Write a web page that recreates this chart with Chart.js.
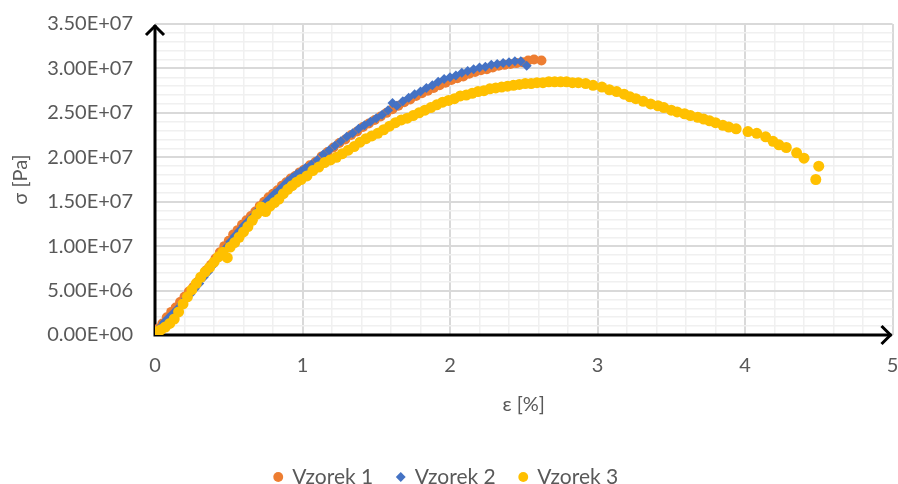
<!DOCTYPE html>
<html>
<head>
<meta charset="utf-8">
<script src="https://cdn.jsdelivr.net/npm/chart.js@4.4.1/dist/chart.umd.min.js"></script>
<style>
  html, body { margin: 0; padding: 0; background: #fff; }
</style>
</head>
<body>
<canvas id="graf" width="898" height="484"></canvas>
<script>
/* ----- data (x = ε [%], y = σ [Pa]) ----- */
const seriesNames = ['Vzorek 1', 'Vzorek 2', 'Vzorek 3'];

const v1x = [0.00,0.02,0.05,0.08,0.11,0.14,0.17,0.20,0.23,0.26,0.29,0.32,0.35,0.38,0.41,0.44,0.47,0.50,0.53,0.56,0.59,0.62,0.65,0.68,0.71,0.74,0.77,0.80,0.83,0.86,0.89,0.92,0.95,0.98,1.01,1.05,1.09,1.13,1.17,1.21,1.25,1.29,1.33,1.37,1.41,1.45,1.49,1.53,1.57,1.61,1.65,1.69,1.73,1.77,1.81,1.85,1.89,1.93,1.97,2.01,2.05,2.09,2.13,2.17,2.21,2.25,2.29,2.33,2.37,2.41,2.45,2.49,2.53,2.57,2.62];
const v1y = [0.3e6,0.7e6,1.3e6,2.0e6,2.6e6,3.1e6,3.7e6,4.3e6,4.9e6,5.4e6,6.0e6,6.6e6,7.3e6,7.9e6,8.6e6,9.3e6,10.0e6,10.6e6,11.3e6,11.8e6,12.4e6,12.9e6,13.4e6,13.9e6,14.5e6,15.0e6,15.5e6,15.9e6,16.3e6,16.8e6,17.2e6,17.6e6,17.9e6,18.3e6,18.6e6,19.1e6,19.5e6,20.1e6,20.6e6,21.1e6,21.6e6,22.0e6,22.5e6,22.9e6,23.4e6,23.8e6,24.2e6,24.6e6,25.0e6,25.4e6,25.8e6,26.2e6,26.5e6,26.9e6,27.2e6,27.5e6,27.8e6,28.1e6,28.4e6,28.7e6,28.9e6,29.1e6,29.4e6,29.6e6,29.8e6,29.9e6,30.1e6,30.3e6,30.4e6,30.5e6,30.6e6,30.7e6,30.9e6,31.0e6,30.9e6];

const v2x = [0.00,0.03,0.06,0.09,0.12,0.15,0.18,0.21,0.24,0.27,0.30,0.33,0.36,0.39,0.42,0.45,0.48,0.51,0.54,0.57,0.60,0.63,0.66,0.69,0.72,0.75,0.78,0.81,0.84,0.87,0.90,0.93,0.96,0.99,1.02,1.06,1.10,1.14,1.18,1.22,1.26,1.30,1.34,1.38,1.42,1.46,1.50,1.54,1.58,1.61,1.64,1.68,1.72,1.76,1.80,1.84,1.88,1.92,1.96,2.00,2.04,2.08,2.12,2.16,2.20,2.24,2.28,2.32,2.36,2.40,2.44,2.48,2.52];
const v2y = [0.2e6,0.8e6,1.4e6,1.9e6,2.4e6,2.9e6,3.5e6,4.1e6,4.6e6,5.2e6,5.8e6,6.5e6,7.1e6,7.8e6,8.5e6,9.2e6,9.8e6,10.5e6,11.1e6,11.7e6,12.3e6,12.8e6,13.3e6,13.9e6,14.5e6,14.9e6,15.4e6,15.9e6,16.3e6,16.8e6,17.3e6,17.7e6,18.1e6,18.4e6,18.8e6,19.2e6,19.7e6,20.3e6,20.8e6,21.3e6,21.8e6,22.3e6,22.7e6,23.2e6,23.6e6,24.0e6,24.4e6,24.8e6,25.3e6,26.1e6,25.8e6,26.3e6,26.7e6,27.1e6,27.4e6,27.8e6,28.1e6,28.5e6,28.8e6,29.0e6,29.2e6,29.5e6,29.7e6,29.9e6,30.1e6,30.2e6,30.4e6,30.5e6,30.6e6,30.7e6,30.8e6,30.8e6,30.3e6];

const v3x = [0.00,0.02,0.04,0.07,0.10,0.13,0.16,0.19,0.22,0.25,0.28,0.31,0.34,0.37,0.40,0.43,0.46,0.49,0.51,0.54,0.57,0.60,0.63,0.66,0.69,0.72,0.75,0.78,0.81,0.84,0.87,0.90,0.93,0.96,0.99,1.03,1.07,1.11,1.15,1.19,1.23,1.27,1.31,1.35,1.39,1.43,1.47,1.51,1.55,1.59,1.63,1.67,1.71,1.75,1.79,1.83,1.87,1.91,1.95,1.99,2.03,2.07,2.11,2.15,2.19,2.23,2.27,2.31,2.35,2.39,2.43,2.47,2.51,2.55,2.59,2.63,2.67,2.71,2.75,2.79,2.83,2.87,2.92,2.97,3.03,3.08,3.13,3.18,3.22,3.26,3.31,3.36,3.41,3.45,3.50,3.54,3.59,3.63,3.68,3.72,3.76,3.80,3.85,3.89,3.94,4.02,4.08,4.14,4.19,4.23,4.28,4.35,4.40,4.50,4.48];
const v3y = [0.2e6,0.4e6,0.6e6,0.9e6,1.3e6,1.8e6,2.6e6,3.5e6,4.3e6,5.1e6,5.8e6,6.5e6,7.1e6,7.6e6,8.2e6,8.8e6,9.3e6,8.7e6,9.9e6,10.4e6,11.0e6,11.6e6,12.2e6,12.9e6,13.6e6,14.4e6,13.9e6,14.5e6,14.9e6,15.3e6,15.9e6,16.4e6,16.8e6,17.2e6,17.5e6,17.9e6,18.5e6,18.9e6,19.4e6,19.7e6,20.0e6,20.4e6,20.8e6,21.2e6,21.7e6,22.1e6,22.4e6,22.7e6,23.1e6,23.5e6,23.9e6,24.2e6,24.4e6,24.7e6,25.0e6,25.3e6,25.6e6,25.9e6,26.2e6,26.4e6,26.6e6,26.9e6,27.0e6,27.2e6,27.4e6,27.5e6,27.7e6,27.8e6,27.9e6,28.0e6,28.1e6,28.2e6,28.3e6,28.3e6,28.4e6,28.4e6,28.5e6,28.5e6,28.5e6,28.5e6,28.4e6,28.4e6,28.3e6,28.1e6,27.9e6,27.6e6,27.4e6,27.1e6,26.8e6,26.6e6,26.3e6,26.0e6,25.8e6,25.6e6,25.3e6,25.1e6,24.9e6,24.7e6,24.5e6,24.3e6,24.1e6,23.9e6,23.6e6,23.4e6,23.2e6,22.9e6,22.7e6,22.3e6,21.8e6,21.4e6,21.1e6,20.5e6,19.9e6,19.0e6,17.5e6];

/* ----- osy ----- */
const xMin = 0, xMax = 5, xMajor = 1, xMinor = 0.2;
const yMin = 0, yMax = 3.5e7, yMajor = 5e6, yMinor = 1e6;

const barvy = ['#ED7D31', '#4472C4', '#FFC000'];
const textColor = '#595959';
const fontFam = "Lato, 'Open Sans', sans-serif";

function body(xs, ys) {
  return xs.map((x, i) => ({ x, y: ys[i] }));
}

/* formát jako v Excelu: 3.50E+07 */
function excelExp(v) {
  if (v === 0) return '0.00E+00';
  const e = Math.floor(Math.log10(Math.abs(v)));
  const m = v / Math.pow(10, e);
  const sign = e < 0 ? '-' : '+';
  return m.toFixed(2) + 'E' + sign + String(Math.abs(e)).padStart(2, '0');
}

function isMajor(v, step) {
  const r = v / step;
  return Math.abs(r - Math.round(r)) < 1e-6;
}

/* černé osy se šipkami */
const sipky = {
  id: 'sipky',
  beforeDatasetsDraw(chart) {
    const { ctx } = chart;
    const x0 = chart.scales.x.getPixelForValue(xMin);
    const y0 = chart.scales.y.getPixelForValue(yMin);
    const xEnd = chart.scales.x.getPixelForValue(xMax);
    const yEnd = chart.scales.y.getPixelForValue(yMax);
    ctx.save();
    ctx.strokeStyle = '#000';
    ctx.lineWidth = 3;
    ctx.beginPath();
    ctx.moveTo(x0, y0 + 1.5);
    ctx.lineTo(x0, yEnd + 1);
    ctx.moveTo(x0 - 1.5, y0);
    ctx.lineTo(xEnd - 1, y0);
    ctx.stroke();
    ctx.beginPath();
    ctx.moveTo(x0 - 9, yEnd + 11);
    ctx.lineTo(x0, yEnd + 2);
    ctx.lineTo(x0 + 9, yEnd + 11);
    ctx.moveTo(xEnd - 11, y0 - 9);
    ctx.lineTo(xEnd - 2, y0);
    ctx.lineTo(xEnd - 11, y0 + 9);
    ctx.stroke();
    ctx.restore();
  }
};

const ds = (i, xs, ys, style, r, order) => ({
  label: seriesNames[i],
  data: body(xs, ys),
  backgroundColor: barvy[i],
  borderColor: barvy[i],
  borderWidth: 0,
  pointStyle: style,
  pointRadius: r,
  pointHoverRadius: r,
  order
});

new Chart(document.getElementById('graf'), {
  type: 'scatter',
  data: {
    datasets: [
      ds(0, v1x, v1y, 'circle', 5, 2),
      ds(1, v2x, v2y, 'rectRot', 5, 1),
      ds(2, v3x, v3y, 'circle', 5.5, 0)
    ]
  },
  options: {
    responsive: false,
    animation: false,
    devicePixelRatio: 1,
    layout: { padding: { top: 24, right: 5, left: 0, bottom: -13.5 } },
    plugins: {
      tooltip: { enabled: false },
      legend: {
        position: 'bottom',
        labels: {
          usePointStyle: true,
          boxWidth: 7,
          boxHeight: 7,
          padding: 24,
          color: textColor,
          font: { family: fontFam, size: 21 },
          sort: (a, b) => a.datasetIndex - b.datasetIndex
        }
      }
    },
    scales: {
      x: {
        type: 'linear',
        min: xMin,
        max: xMax,
        afterFit: s => { s.height = 107.5; },
        border: { display: false },
        grid: {
          drawTicks: true,
          tickLength: 20,
          tickColor: 'rgba(0,0,0,0)',
          color: c => isMajor(c.tick.value, xMajor) ? '#d9d9d9' : '#f0f0f0',
          lineWidth: c => isMajor(c.tick.value, xMajor) ? 2 : 1.5
        },
        ticks: {
          stepSize: xMinor,
          autoSkip: false,
          maxRotation: 0,
          padding: -1.5,
          color: textColor,
          font: { family: fontFam, size: 20 },
          callback: v => isMajor(v, xMajor) ? String(Math.round(v)) : ''
        },
        title: {
          display: true,
          text: 'ε [%]',
          color: textColor,
          font: { family: fontFam, size: 20 },
          padding: { top: 0, bottom: 26 }
        }
      },
      y: {
        type: 'linear',
        min: yMin,
        max: yMax,
        afterFit: s => { s.width = 155; },
        border: { display: false },
        grid: {
          drawTicks: true,
          tickLength: 22,
          tickColor: 'rgba(0,0,0,0)',
          color: c => isMajor(c.tick.value, yMajor) ? '#d9d9d9' : '#f0f0f0',
          lineWidth: c => isMajor(c.tick.value, yMajor) ? 2 : 1.5
        },
        ticks: {
          stepSize: yMinor,
          autoSkip: false,
          padding: 0,
          color: textColor,
          font: { family: fontFam, size: 20 },
          callback: v => isMajor(v, yMajor) ? excelExp(v) : ''
        },
        title: {
          display: true,
          text: 'σ [Pa]',
          color: textColor,
          font: { family: fontFam, size: 20 },
          padding: { top: 9, bottom: 0 }
        }
      }
    }
  },
  plugins: [sipky]
});
</script>
</body>
</html>
